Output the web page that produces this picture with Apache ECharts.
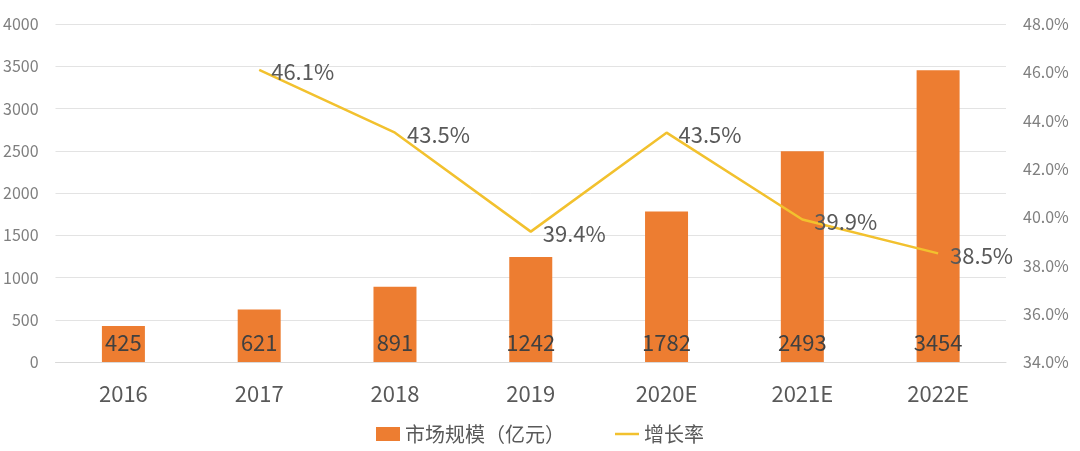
<!DOCTYPE html>
<html><head><meta charset="utf-8">
<script src="https://cdn.jsdelivr.net/npm/echarts@6/dist/echarts.min.js"></script>
<style>html,body{margin:0;padding:0;background:#fff}#c{width:1080px;height:451px}</style>
</head><body><div id="c"></div>
<script>
var categories = ['2016','2017','2018','2019','2020E','2021E','2022E'];
var marketSize = [425, 621, 891, 1242, 1782, 2493, 3454];
var growthRate = [null, 46.1, 43.5, 39.4, 43.5, 39.9, 38.5];
var seriesNames = ['市场规模（亿元）', '增长率'];

var chart = echarts.init(document.getElementById('c'));
var font = '"Noto Sans CJK SC","Noto Sans",sans-serif';
chart.setOption({
  animation: false,
  textStyle: {fontFamily: font},
  grid: {left: 55, right: 74, top: 24, bottom: 89},
  legend: {
    bottom: 2, left: 'center',
    itemGap: 50, itemWidth: 24, itemHeight: 14,
    textStyle: {fontSize: 20, color: '#595959', fontFamily: font},
    data: [
      {name: seriesNames[0], icon: 'rect'},
      {name: seriesNames[1], icon: 'path://M0,6L24,6L24,8.5L0,8.5Z', itemStyle: {color: '#f2c12e'}}
    ]
  },
  xAxis: {
    type: 'category', data: categories,
    axisLine: {show: true, lineStyle: {color: '#d9d9d9'}},
    axisTick: {show: false},
    axisLabel: {fontSize: 22, color: '#595959', margin: 21, fontFamily: font}
  },
  yAxis: [{
    type: 'value', min: 0, max: 4000, interval: 500,
    axisLine: {show: false}, axisTick: {show: false},
    splitLine: {lineStyle: {color: '#e3e3e3'}},
    axisLabel: {fontSize: 16, color: '#7f7f7f', margin: 17, fontFamily: font,
      formatter: function(v){return String(v);}}
  }, {
    type: 'value', min: 34, max: 48, interval: 2,
    axisLine: {show: false}, axisTick: {show: false},
    splitLine: {show: false},
    axisLabel: {fontSize: 16, color: '#7f7f7f', margin: 17, fontFamily: font,
      formatter: function(v){return v.toFixed(1)+'%';}}
  }],
  series: [{
    name: seriesNames[0], type: 'bar', data: marketSize, barWidth: 43,
    itemStyle: {color: '#ed7d31'},
    label: {show: true, position: 'insideBottom', distance: 8, fontSize: 22, color: '#404040', fontFamily: font}
  }, {
    name: seriesNames[1], type: 'line', yAxisIndex: 1, data: growthRate,
    symbol: 'circle', symbolSize: 0.01, showSymbol: true, smooth: false,
    lineStyle: {color: '#f2c12e', width: 2.5},
    itemStyle: {color: '#f2c12e'},
    label: {show: true, position: 'right', distance: 12, offset: [0, 2], fontSize: 22, color: '#595959', fontFamily: font,
      formatter: function(p){return p.value == null ? '' : p.value.toFixed(1)+'%';}}
  }]
});
</script></body></html>
